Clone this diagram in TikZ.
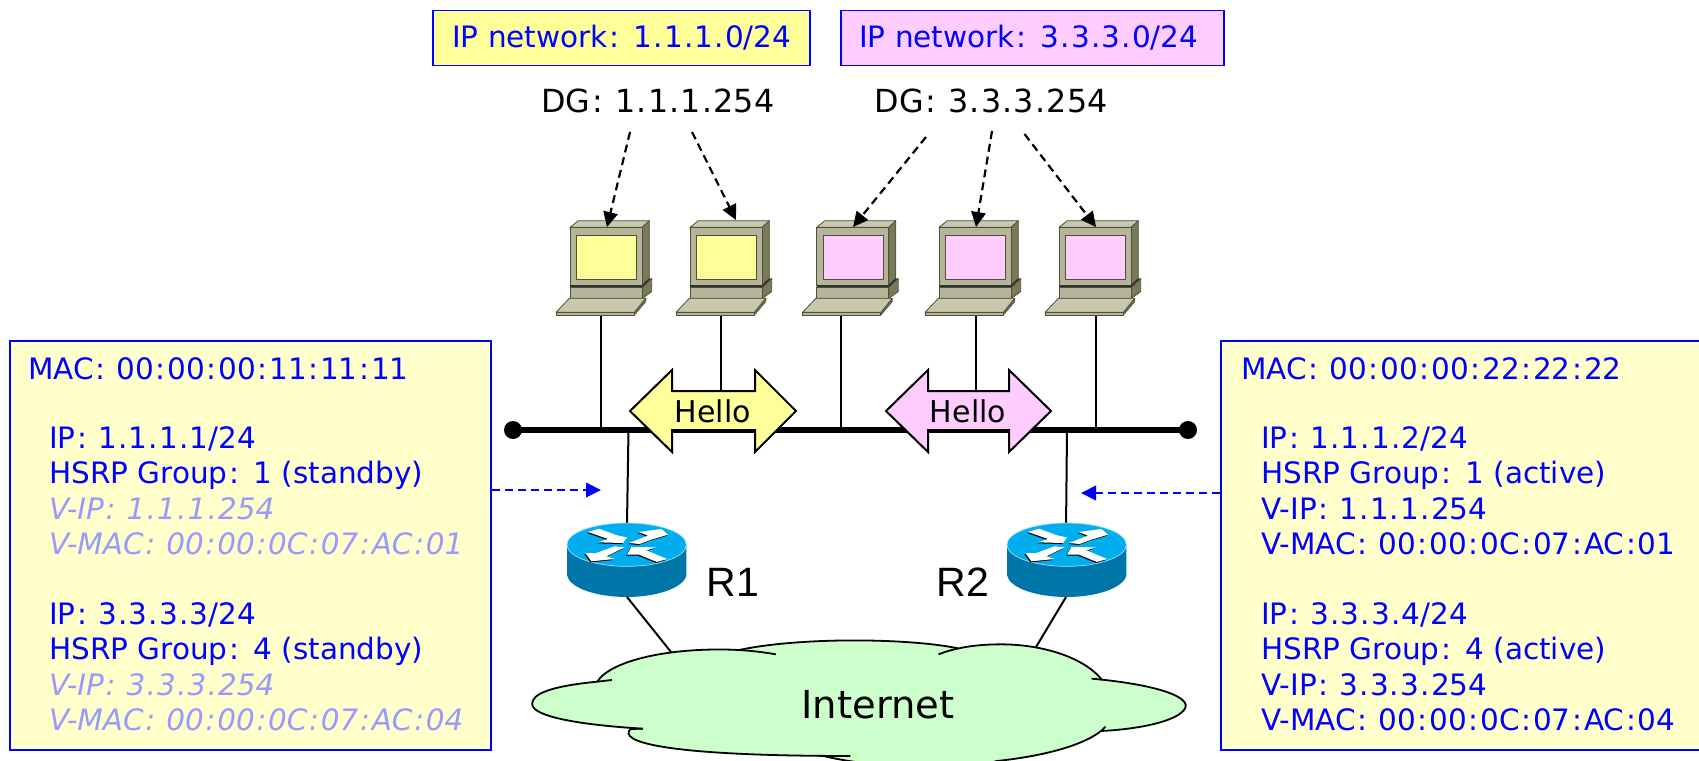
\documentclass[tikz,border=0pt]{standalone}
\usepackage{fontspec}
\setmainfont{DejaVu Sans}
\newfontfamily\arialfont{Liberation Sans}
\usetikzlibrary{arrows.meta}
\newcommand{\cl}{\kern.058em:\kern.058em}
\newcommand{\pd}{\kern.04em.\kern.04em}
\definecolor{netblue}{RGB}{0,0,255}
\definecolor{fadeblue}{RGB}{153,153,255}
\definecolor{palebox}{RGB}{255,255,204}
\definecolor{yel}{RGB}{255,255,153}
\definecolor{pnk}{RGB}{255,204,255}
\definecolor{cloudg}{RGB}{204,255,204}
\definecolor{pcfront}{RGB}{181,181,155}
\definecolor{pclight}{RGB}{200,200,175}
\definecolor{pcside}{RGB}{122,122,90}
\definecolor{pcline}{RGB}{80,80,55}
\definecolor{rtop}{RGB}{0,174,239}
\definecolor{rside}{RGB}{0,118,168}
\tikzset{
  x=1pt,y=-1pt,
  infobox/.style={draw=netblue,line width=1.5pt,fill=palebox},
  titlebox/.style={draw=netblue,line width=1.5pt,minimum height=55pt,anchor=north west,inner sep=0pt},
  titletext/.style={text=netblue,font=\fontsize{29.5}{34}\selectfont,anchor=west,inner sep=0pt},
  blab/.style={text=netblue,font=\fontsize{29.5}{34}\selectfont,anchor=base west,inner sep=0pt},
  vlab/.style={text=fadeblue,font=\fontsize{29.5}{34}\selectfont\itshape,anchor=base west,inner sep=0pt},
  ctext/.style={font=\fontsize{31.8}{36}\selectfont,inner sep=0pt},
  hellotext/.style={font=\fontsize{30}{33}\selectfont,inner sep=0pt},
  wire/.style={line width=2pt,draw=black},
  hellobox/.style={draw=black,line width=2pt,line join=miter},
  dasharrow/.style={line width=2.2pt,dash pattern=on 8pt off 5pt,-{Triangle[length=15pt,width=14.5pt]}},
  bluearrow/.style={draw=netblue,line width=2.2pt,dash pattern=on 8pt off 5pt,-{Triangle[length=15pt,width=14.5pt]}},
  pcpart/.style={draw=pcline,line width=0.8pt,line join=round},
  cloudline/.style={line width=1.8pt,draw=black},
  pics/pc/.style={code={
    \begin{scope}[shift={(-213,-345)}]
      \filldraw[pcpart,fill=pcside] (337,262)--(365,235)--(365,275)--(337,295)--cycle;
      \filldraw[pcpart,fill=pcfront] (120,262) rectangle (337,295);
      \filldraw[pcpart,fill=pclight] (120,82)--(145,62)--(358,62)--(337,82)--cycle;
      \filldraw[pcpart,fill=pcside] (337,82)--(358,62)--(358,235)--(337,255)--cycle;
      \filldraw[pcpart,fill=pcfront] (120,82) rectangle (337,255);
      \filldraw[pcpart,fill=#1,line width=1pt] (140,107) rectangle (320,238);
      \draw[line width=1.6pt,draw=black!80] (120,258)--(337,258)--(360,236);
      \filldraw[pcpart,fill=pcside] (313,337)--(347,295)--(347,305)--(313,345)--cycle;
      \filldraw[pcpart,fill=pclight] (78,337)--(118,295)--(347,295)--(313,337)--cycle;
      \filldraw[pcpart,fill=pcfront] (78,337) rectangle (313,345);
    \end{scope}}},
  pics/router/.style={code={
    \begin{scope}[shift={(-262,-70)}]
      \fill[rside] (82,135)--(82,227) .. controls (90,265) and (170,292) .. (261,292) .. controls (350,292) and (432,265) .. (440,227)--(440,135)--cycle;
      \filldraw[fill=rtop,draw=white!60!rtop,line width=0.7pt] (261,135) ellipse[x radius=179,y radius=65];
      \foreach \dx/\dy/\c in {-3/3/black,0/0/white}{
        \begin{scope}[shift={(\dx,\dy)}]
        \fill[\c] (145,97)--(178,87)--(232,107)--(262,113)--(250,130)--(175,128)--(205,118)--cycle;
        \fill[\c] (268,130)--(325,108)--(297,97)--(365,88)--(385,105)--(335,120)--(300,133)--cycle;
        \fill[\c] (255,143)--(225,140)--(170,160)--(137,160)--(155,185)--(225,178)--(200,170)--cycle;
        \fill[\c] (262,165)--(275,142)--(350,143)--(320,152)--(382,178)--(352,187)--(298,165)--cycle;
        \end{scope}}
    \end{scope}}}
}
\begin{document}
\begin{tikzpicture}
\useasboundingbox (0,0) rectangle (1699,760);
\clip (0,0) rectangle (1699,760);
% title boxes
\node[titlebox,fill=yel,minimum width=377pt] (net1) at (432,10) {};
\node[titlebox,fill=pnk,minimum width=383pt] (net3) at (840,10) {};
\node[titletext] (net1t) at (452,37.5) {IP network\cl{} 1\pd1\pd1\pd0/24};
\node[titletext] (net3t) at (859,37.5) {IP network\cl{} 3\pd3\pd3\pd0/24};
\node[ctext] (dg1) at (658,101) {DG\cl{} 1\pd1\pd1\pd254};
\node[ctext] (dg3) at (991,101) {DG\cl{} 3\pd3\pd3\pd254};
% anchor coordinates
\coordinate (pc1) at (601,315);
\coordinate (pc2) at (721,315);
\coordinate (pc3) at (847.5,315);
\coordinate (pc4) at (970,315);
\coordinate (pc5) at (1090,315);
\coordinate (cb1) at (601,315);
\coordinate (cb2) at (721,315);
\coordinate (cb3) at (841,315);
\coordinate (cb4) at (975.5,315);
\coordinate (cb5) at (1095.5,315);
\coordinate (busL) at (513,430);
\coordinate (busR) at (1188,430);
% wires
\foreach \p in {cb1,cb2,cb3,cb4,cb5}{\draw[wire] (\p) -- (\p |- busL);}
\coordinate (r1top) at (627,523);
\coordinate (r2top) at (1067,523);
\coordinate (r2wire) at (1066,530);
\coordinate (b1) at (628.5,430);
\coordinate (b2) at (1067,430);
\draw[wire] (b1) -- (r1top);
\draw[wire] (b2) -- (r2wire);
\draw[line width=5.5pt] (busL) -- (busR);
\fill (busL) circle (9pt);
\fill (busR) circle (9pt);
% PCs
\pic[scale=1/3] at (pc1) {pc=yel};
\pic[scale=1/3] at (pc2) {pc=yel};
\pic[scale=1/3] at (pc3) {pc=pnk};
\pic[scale=1/3] at (pc4) {pc=pnk};
\pic[scale=1/3] at (pc5) {pc=pnk};
% DG arrows
\coordinate (a1s) at (630,132); \coordinate (a1e) at (607,227);
\coordinate (a2s) at (692,132); \coordinate (a2e) at (736,220);
\coordinate (a3s) at (926,137); \coordinate (a3e) at (853,227);
\coordinate (a4s) at (992,131); \coordinate (a4e) at (976,227);
\coordinate (a5s) at (1024.5,134); \coordinate (a5e) at (1096,227);
\foreach \i in {1,...,5}{\draw[dasharrow] (a\i s) -- (a\i e);}
% Hello arrows
\filldraw[hellobox,fill=yel] (630,411)--(672,370)--(672,391)--(755,391)--(755,370)--(796,411)--(755,452)--(755,430)--(672,430)--(672,452)--cycle;
\node[hellotext] (h1) at (713,411) {Hello};
\filldraw[hellobox,fill=pnk] (886,411)--(928,370)--(928,391)--(1009,391)--(1009,370)--(1051,411)--(1009,452)--(1009,430)--(928,430)--(928,452)--cycle;
\node[hellotext] (h2) at (968,411) {Hello};
% Cloud
\coordinate (c1) at (671,652);
\coordinate (c2) at (1036,647);
\coordinate (r1bot) at (627,597);
\coordinate (r2bot) at (1066,597);
\draw[wire] (r1bot) -- (c1);
\draw[wire] (r2bot) -- (c2);
\begin{scope}[shift={(520,630)},xscale=0.4337,yscale=0.3333]
\fill[cloudg] (178,155) .. controls (60,170) and (28,195) .. (28,222)
  .. controls (28,260) and (140,285) .. (255,297)
  .. controls (225,335) and (330,378) .. (700,378)
  .. controls (800,410) and (1000,430) .. (1100,393)
  .. controls (1230,375) and (1320,335) .. (1340,303)
  .. controls (1460,295) and (1537,260) .. (1535,225)
  .. controls (1530,190) and (1440,160) .. (1342,150)
  .. controls (1300,80) and (1200,43) .. (1110,43)
  .. controls (1080,43) and (1040,47) .. (1010,55)
  .. controls (900,25) and (650,20) .. (505,60)
  .. controls (350,50) and (210,90) .. (178,155) -- cycle;
\draw[cloudline] (212,150) -- (178,155) .. controls (60,170) and (28,195) .. (28,222)
  .. controls (28,260) and (140,285) .. (283,296);
\draw[cloudline] (283,296) -- (255,297) .. controls (225,335) and (330,378) .. (762,378);
\draw[cloudline] (700,378) .. controls (800,410) and (1000,430) .. (1100,393)
  .. controls (1230,375) and (1320,335) .. (1350,290);
\draw[cloudline] (1340,303) .. controls (1460,295) and (1537,260) .. (1535,225)
  .. controls (1530,190) and (1440,160) .. (1318,146);
\draw[cloudline] (1342,150) .. controls (1300,80) and (1200,43) .. (1110,43)
  .. controls (1060,43) and (1010,50) .. (965,73);
\draw[cloudline] (1010,55) .. controls (900,25) and (650,20) .. (505,60);
\draw[cloudline] (178,155) .. controls (210,90) and (350,50) .. (505,60)
  .. controls (530,62) and (560,66) .. (590,73);
\end{scope}
\node[font=\fontsize{38.5}{42}\selectfont,inner sep=0pt] (inet) at (878,705) {Internet};
% Routers
\pic[scale=1/3] at (r1top) {router};
\pic[scale=1/3] at (r2top) {router};
\node[font=\arialfont\fontsize{41}{44}\selectfont,inner sep=0pt] (R1) at (733,582) {R1};
\node[font=\arialfont\fontsize{41}{44}\selectfont,inner sep=0pt] (R2) at (963,582) {R2};
% Info boxes
\node[infobox,minimum width=481pt,minimum height=409pt,anchor=north west,inner sep=0pt] (lbox) at (9,340) {};
\node[infobox,minimum width=490pt,minimum height=409pt,anchor=north west,inner sep=0pt] (rbox) at (1220,340) {};
\node[blab] (l1) at (28,379) {MAC\cl{} 00\cl{}00\cl{}00\cl{}11\cl{}11\cl{}11};
\node[blab] (l2) at (49,448) {IP\cl{} 1\pd1\pd1\pd1/24};
\node[blab] (l3) at (49,483) {HSRP Group\cl{} 1 (standby)};
\node[vlab] (l4) at (49,519) {V-IP\cl{} 1\pd1\pd1\pd254};
\node[vlab] (l5) at (49,554) {V-MAC\cl{} 00\cl{}00\cl{}0C\cl{}07\cl{}AC\cl{}01};
\node[blab] (l6) at (49,624) {IP\cl{} 3\pd3\pd3\pd3/24};
\node[blab] (l7) at (49,659) {HSRP Group\cl{} 4 (standby)};
\node[vlab] (l8) at (49,695) {V-IP\cl{} 3\pd3\pd3\pd254};
\node[vlab] (l9) at (49,730) {V-MAC\cl{} 00\cl{}00\cl{}0C\cl{}07\cl{}AC\cl{}04};
\node[blab] (r1) at (1241,379) {MAC\cl{} 00\cl{}00\cl{}00\cl{}22\cl{}22\cl{}22};
\node[blab] (r2) at (1261,448) {IP\cl{} 1\pd1\pd1\pd2/24};
\node[blab] (r3) at (1261,483) {HSRP Group\cl{} 1 (active)};
\node[blab] (r4) at (1261,519) {V-IP\cl{} 1\pd1\pd1\pd254};
\node[blab] (r5) at (1261,554) {V-MAC\cl{} 00\cl{}00\cl{}0C\cl{}07\cl{}AC\cl{}01};
\node[blab] (r6) at (1261,624) {IP\cl{} 3\pd3\pd3\pd4/24};
\node[blab] (r7) at (1261,659) {HSRP Group\cl{} 4 (active)};
\node[blab] (r8) at (1261,695) {V-IP\cl{} 3\pd3\pd3\pd254};
\node[blab] (r9) at (1261,730) {V-MAC\cl{} 00\cl{}00\cl{}0C\cl{}07\cl{}AC\cl{}04};
% Blue dashed pointers
\draw[bluearrow] (lbox.east |- 0,490) -- (601,490);
\draw[bluearrow] (rbox.west |- 0,493) -- (1081,493);
\end{tikzpicture}
\end{document}
